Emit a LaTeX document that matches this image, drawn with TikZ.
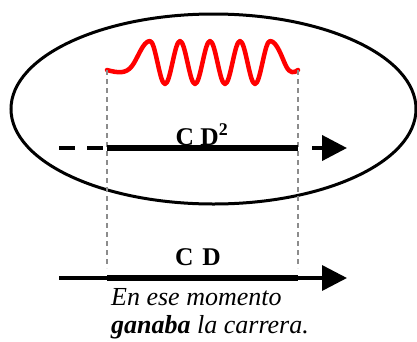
\documentclass[tikz,border=0pt]{standalone}
\usepackage{fontspec}
\setmainfont{Liberation Serif}
\usepackage{tikz}
\usetikzlibrary{shapes.geometric, arrows.meta, positioning, calc}
\definecolor{wavered}{HTML}{FF0000}
\definecolor{guidegray}{HTML}{8C8C8C}
\tikzset{
  oval/.style={draw=black, ellipse, line width=3pt, minimum width=405pt, minimum height=190pt, inner sep=0pt},
  wave/.style={draw=wavered, line width=4.5pt, line cap=round, line join=round},
  guide/.style={draw=guidegray, line width=1.3pt, dash pattern=on 5pt off 4pt},
  track/.style={line width=3.5pt},
  segment/.style={line width=5.5pt},
  arrowtip/.style={-{Triangle[length=25pt, width=25pt]}},
  lbl/.style={font=\fontsize{25.5}{28}\selectfont\bfseries, inner sep=0pt}
}

\begin{document}
\begin{tikzpicture}[x=1pt, y=-1pt]
  \useasboundingbox (0,0) rectangle (417,341);

  % the oval
  \node[oval] (oval) at (213.5,109) {};

  % ends of the wave and of the segments
  \coordinate (w1) at (107,70);
  \coordinate (w2) at (298,70);
  \coordinate (s1) at (59,148);
  \coordinate (A) at (107,148);
  \coordinate (B) at (298,148);
  \coordinate (g1) at (312,148);
  \coordinate (t1) at (347,148);
  \coordinate (s2) at (59,278);
  \coordinate (C) at (107,278);
  \coordinate (D) at (298,278);
  \coordinate (t2) at (347,278);
  \coordinate (e1) at (107,268);
  \coordinate (e2) at (298,268);

  % red wave
  \draw[wave] (w1) .. controls (118,73) and (126,74) .. (132,66)
    .. controls (138,58) and (143,41) .. (150,41)
    \foreach \k in {0,...,3} {
      cos ({157.5+30*\k},62.5) sin ({165+30*\k},84)
      cos ({172.5+30*\k},62.5) sin ({180+30*\k},41)
    }
    .. controls (277,41) and (282,58) .. (286,66)
    .. controls (290,74) and (294,73) .. (w2);

  % guides
  \draw[guide] (w1) -- (e1);
  \draw[guide] (w2) -- (e2);

  % upper track
  \draw[track, line width=4pt, dash pattern=on 16pt off 12pt] (s1) -- (A);
  \draw[segment] (A) -- (B);
  \draw[track, line width=4pt, arrowtip] (g1) -- (t1);
  \node[lbl, anchor=base] (cd2) at (202,145) {C D\textsuperscript{2}};

  % lower track
  \draw[track, arrowtip] (s2) -- (t2);
  \draw[segment] (C) -- (D);
  \node[lbl, anchor=base] (cd) at (198,265) {C\hspace{0.35em}D};

  % caption
  \node[anchor=base west, inner sep=0pt, align=left,
        font=\fontsize{26}{28}\selectfont\itshape] (note) at (111,333)
    {En ese momento\\\textbf{ganaba} la carrera.};
\end{tikzpicture}
\end{document}
